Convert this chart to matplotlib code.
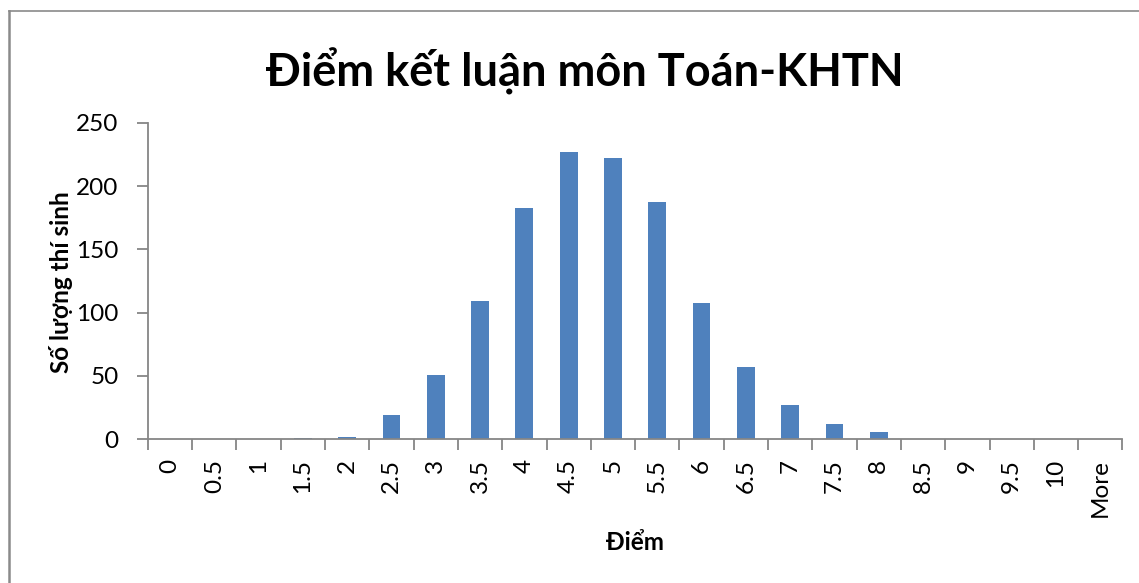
import numpy as np
import matplotlib.pyplot as plt
from matplotlib.lines import Line2D

plt.rcParams['font.family'] = ['Lato', 'DejaVu Sans']

# dữ liệu
bins = ['0', '0.5', '1', '1.5', '2', '2.5', '3', '3.5', '4', '4.5', '5',
        '5.5', '6', '6.5', '7', '7.5', '8', '8.5', '9', '9.5', '10', 'More']
counts = [0, 0, 0, 1, 2, 19, 51, 109, 183, 227, 222,
          187, 108, 57, 27, 12, 6, 0, 0, 0, 0, 0]
yticks = [0, 50, 100, 150, 200, 250]

title = 'Điểm kết luận môn Toán-KHTN'
xlabel = 'Điểm'
ylabel = 'Số lượng thí sinh'

W, H = 1139, 583
fig = plt.figure(figsize=(W / 100, H / 100), dpi=100)
ax = fig.add_axes([147.8 / W, (H - 439.3) / H, (1122.4 - 147.8) / W, (439.3 - 122.7) / H])

grey = '#868686'
x = np.arange(len(bins))
ax.bar(x, counts, width=0.4, color='#4F81BD', zorder=2)

ax.set_xlim(-0.5, len(bins) - 0.5)
ax.set_ylim(0, 250)
ax.set_yticks(yticks)
ax.set_yticklabels([str(v) for v in yticks], fontsize=17.5)

# vạch chia nằm giữa các nhóm, nhãn nằm ở giữa nhóm
ax.set_xticks(np.arange(-0.5, len(bins), 1.0))
ax.set_xticklabels([])
ax.set_xticks(x, minor=True)
ax.set_xticklabels(bins, minor=True, rotation=90, fontsize=17.5, va='top', ha='center')
ax.tick_params(axis='x', which='minor', length=0, pad=14)
ax.tick_params(axis='x', which='major', length=8, width=1.3, color=grey, direction='out')
ax.tick_params(axis='y', length=8, width=1.3, color=grey, direction='out', pad=13)

for s in ['top', 'right']:
    ax.spines[s].set_visible(False)
for s in ['left', 'bottom']:
    ax.spines[s].set_color(grey)
    ax.spines[s].set_linewidth(1.3)

fig.text(585 / W, 1 - 71 / H, title, fontsize=32.5, fontweight='bold', ha='center', va='center')
fig.text(635 / W, 1 - 542 / H, xlabel, fontsize=17.5, fontweight='bold', ha='center', va='center')
fig.text(61 / W, 1 - 282 / H, ylabel, fontsize=17.5, fontweight='bold', ha='center', va='center',
         rotation=90)

# khung viền
fig.add_artist(Line2D([9 / W, 9 / W], [0, 1 - 11 / H], transform=fig.transFigure,
                      color='#8a8a8a', lw=1.8))
fig.add_artist(Line2D([9 / W, 1], [1 - 11 / H, 1 - 11 / H], transform=fig.transFigure,
                      color='#8a8a8a', lw=1.2))

fig.savefig('out.png', dpi=100)
